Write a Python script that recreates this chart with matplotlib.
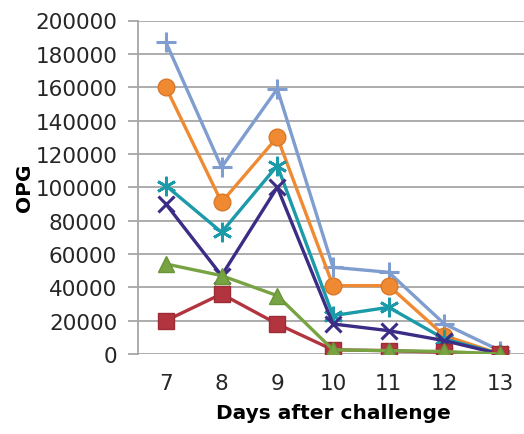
import matplotlib
matplotlib.use("Agg")
import matplotlib.pyplot as plt

days = [7, 8, 9, 10, 11, 12, 13]
red_sq = [20000, 36000, 18000, 2500, 2000, 1000, 0]
green_tri = [54000, 47000, 35000, 2500, 2000, 1500, 0]
purple_x = [90000, 47000, 100000, 18000, 14000, 8000, 0]
teal_ast = [101000, 73000, 113000, 23000, 28000, 9000, 0]
orange_circ = [160000, 91000, 130000, 41000, 41000, 11000, 0]
blue_plus = [187000, 112000, 159000, 52000, 49000, 18000, 2000]

fig = plt.figure(figsize=(5.24, 4.35), dpi=100)
ax = fig.add_axes([138 / 524, 80 / 435, 390 / 524, 333.5 / 435])

ax.plot(days, blue_plus, color='#7f9dcf', lw=2.4, marker='+', ms=14, mew=2.2, zorder=3)
ax.plot(days, orange_circ, color='#f08a32', lw=2.4, marker='o', ms=12, mec='#d9782a', zorder=4)
ax.plot(days, teal_ast, color='#1b9aa9', lw=2.4, marker=(6, 2, 0), ms=14, mew=2.0, zorder=4)
ax.plot(days, purple_x, color='#3b2c85', lw=2.4, marker='x', ms=11, mew=2.2, zorder=4)
ax.plot(days, red_sq, color='#b2343f', lw=2.4, marker='s', ms=11, mec='#9e2c36', zorder=5)
ax.plot(days, green_tri, color='#77a343', lw=2.4, marker='^', ms=12, mec='#6a9438', zorder=5)

ax.set_xlim(6.5, 13.5)
ax.set_ylim(0, 200000)
ax.set_xticks(days)
ax.set_yticks(range(0, 200001, 20000))
ax.grid(axis='y', color='#a6a6a6', lw=1.3)
ax.set_axisbelow(True)
for s in ['top', 'right', 'bottom']:
    ax.spines[s].set_visible(False)
ax.spines['left'].set_color('#a6a6a6')
ax.spines['left'].set_linewidth(1.3)
ax.tick_params(axis='y', length=7, color='#a6a6a6', width=1.3, labelsize=15.5, pad=8)
ax.tick_params(axis='x', length=0, labelsize=15.5, pad=14)
for lab in ax.get_xticklabels() + ax.get_yticklabels():
    lab.set_color('#262626')

ax.set_xlabel('Days after challenge', fontsize=14.5, fontweight='bold', labelpad=7)
ax.set_ylabel('OPG', fontsize=14.5, fontweight='bold', labelpad=1)

fig.savefig('out.png', dpi=100)
